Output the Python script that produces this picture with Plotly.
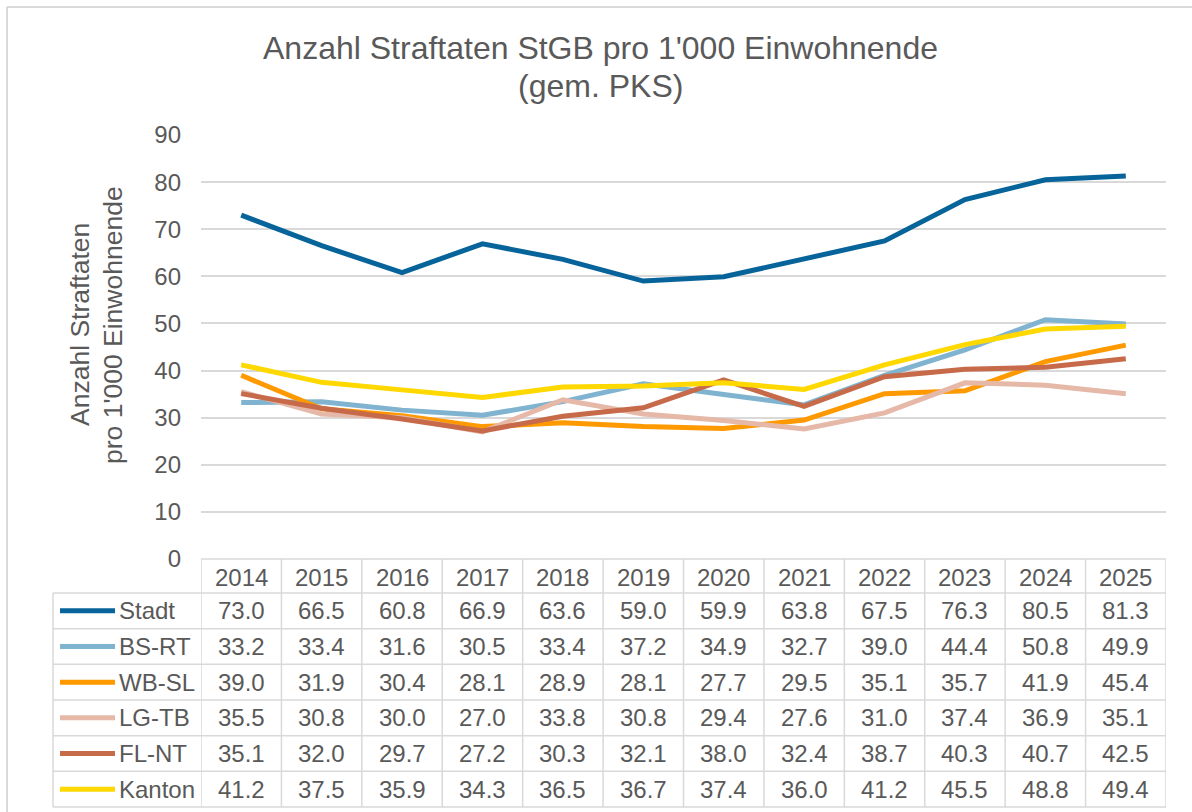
import plotly.graph_objects as go

years = ["2014", "2015", "2016", "2017", "2018", "2019", "2020", "2021", "2022", "2023", "2024", "2025"]
series_names = ["Stadt", "BS-RT", "WB-SL", "LG-TB", "FL-NT", "Kanton"]
stadt = [73.0, 66.5, 60.8, 66.9, 63.6, 59.0, 59.9, 63.8, 67.5, 76.3, 80.5, 81.3]
bs_rt = [33.2, 33.4, 31.6, 30.5, 33.4, 37.2, 34.9, 32.7, 39.0, 44.4, 50.8, 49.9]
wb_sl = [39.0, 31.9, 30.4, 28.1, 28.9, 28.1, 27.7, 29.5, 35.1, 35.7, 41.9, 45.4]
lg_tb = [35.5, 30.8, 30.0, 27.0, 33.8, 30.8, 29.4, 27.6, 31.0, 37.4, 36.9, 35.1]
fl_nt = [35.1, 32.0, 29.7, 27.2, 30.3, 32.1, 38.0, 32.4, 38.7, 40.3, 40.7, 42.5]
kanton = [41.2, 37.5, 35.9, 34.3, 36.5, 36.7, 37.4, 36.0, 41.2, 45.5, 48.8, 49.4]
series_values = [stadt, bs_rt, wb_sl, lg_tb, fl_nt, kanton]
colors = ["#07649A", "#7FB3CF", "#FF9900", "#E6B8A8", "#C66A4A", "#FFD800"]

title_line1 = "Anzahl Straftaten StGB pro 1'000 Einwohnende"
title_line2 = "(gem. PKS)"
ytitle_line1 = "Anzahl Straftaten"
ytitle_line2 = "pro 1'000 Einwohnende"

W, H = 1192, 812
PL, PR, PT, PB = 201, 1166, 135, 559
TXT = "#595959"
GRID = "#D9D9D9"
FONT = "Liberation Sans, Arial, sans-serif"


def px(p):
    return (p - PL) / (PR - PL)


def py(p):
    return (PB - p) / (PB - PT)


fig = go.Figure()
for name, vals, col in zip(series_names, series_values, colors):
    fig.add_trace(go.Scatter(x=years, y=vals, mode="lines", name=name,
                             line=dict(color=col, width=5), showlegend=False))

fig.update_layout(
    width=W, height=H,
    margin=dict(l=PL, r=W - PR, t=PT, b=H - PB),
    paper_bgcolor="white", plot_bgcolor="white",
    font=dict(family=FONT, color=TXT, size=24),
    xaxis=dict(type="category", range=[-0.5, len(years) - 0.5], showticklabels=False,
               showgrid=False, zeroline=False, showline=False, fixedrange=True),
    yaxis=dict(range=[0, 90], dtick=10, showgrid=True, gridcolor=GRID, gridwidth=1.5,
               zeroline=False, showline=False, ticks="", ticklabelstandoff=19,
               tickfont=dict(size=24, color=TXT)),
)

shapes = []
ann = []
# outer border (top and left visible)
shapes.append(dict(type="line", xref="paper", yref="paper", x0=px(7), x1=px(W + 5), y0=py(7), y1=py(7),
                   line=dict(color=GRID, width=2)))
shapes.append(dict(type="line", xref="paper", yref="paper", x0=px(7), x1=px(7), y0=py(7), y1=py(H + 5),
                   line=dict(color=GRID, width=2)))

# table geometry
header_bottom = 593
row_h = (807 - header_bottom) / len(series_names)
row_edges = [header_bottom + k * row_h for k in range(len(series_names) + 1)]
tbl_left = 53
tline = dict(color=GRID, width=1.5)
# horizontal lines
shapes.append(dict(type="line", xref="paper", yref="paper", x0=px(PL), x1=px(PR), y0=py(PB), y1=py(PB), line=tline))
for e in row_edges:
    shapes.append(dict(type="line", xref="paper", yref="paper", x0=px(tbl_left), x1=px(PR), y0=py(e), y1=py(e), line=tline))
# vertical lines
shapes.append(dict(type="line", xref="paper", yref="paper", x0=px(tbl_left), x1=px(tbl_left),
                   y0=py(header_bottom), y1=py(807), line=tline))
for i in range(len(years) + 1):
    shapes.append(dict(type="line", xref="x", yref="paper", x0=i - 0.5, x1=i - 0.5,
                       y0=py(PB), y1=py(807), line=tline))

# header years (category index positions on the x axis)
for i, yr in enumerate(years):
    ann.append(dict(x=i, xref="x", y=py((PB + header_bottom) / 2 + 1), yref="paper", text=yr,
                    showarrow=False, font=dict(size=24, color=TXT), xanchor="center", yanchor="middle"))
# rows
for r, (name, vals, col) in enumerate(zip(series_names, series_values, colors)):
    cy = py((row_edges[r] + row_edges[r + 1]) / 2)
    shapes.append(dict(type="line", xref="paper", yref="paper", x0=px(60), x1=px(115), y0=cy, y1=cy,
                       line=dict(color=col, width=5)))
    ann.append(dict(x=px(117), xref="paper", y=cy, yref="paper", text=name, showarrow=False,
                    font=dict(size=24, color=TXT), xanchor="left", yanchor="middle"))
    for i, v in enumerate(vals):
        ann.append(dict(x=i, xref="x", y=cy, yref="paper", text=f"{v:.1f}", showarrow=False,
                        font=dict(size=24, color=TXT), xanchor="center", yanchor="middle"))

# title
ann.append(dict(x=px(600), xref="paper", y=py(48), yref="paper", text=title_line1, showarrow=False,
                font=dict(size=32, color=TXT), xanchor="center", yanchor="middle"))
ann.append(dict(x=px(600), xref="paper", y=py(86), yref="paper", text=title_line2, showarrow=False,
                font=dict(size=32, color=TXT), xanchor="center", yanchor="middle"))
# y-axis title
ann.append(dict(x=px(80), xref="paper", y=py(325), yref="paper", text=ytitle_line1, showarrow=False,
                textangle=-90, font=dict(size=26.5, color=TXT), xanchor="center", yanchor="middle"))
ann.append(dict(x=px(113), xref="paper", y=py(325), yref="paper", text=ytitle_line2, showarrow=False,
                textangle=-90, font=dict(size=26.5, color=TXT), xanchor="center", yanchor="middle"))

fig.update_layout(shapes=shapes, annotations=ann)
fig.write_html("out.html", config={"displayModeBar": False},
               post_script="document.body.style.margin='0';")
